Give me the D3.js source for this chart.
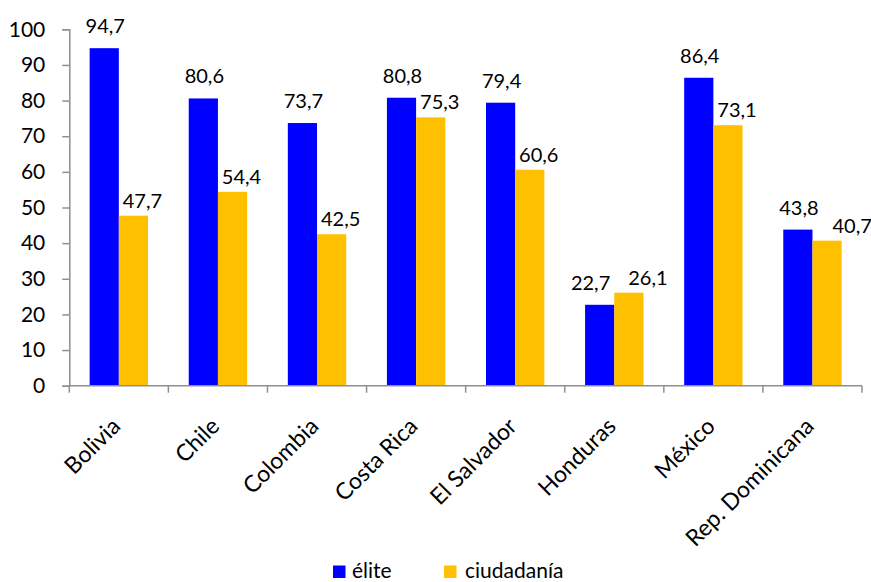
<!DOCTYPE html>
<html>
<head>
<meta charset="utf-8">
<script src="https://cdn.jsdelivr.net/npm/d3@7"></script>
<style>
  html, body { margin: 0; padding: 0; background: #fff; }
  svg { display: block; font-family: Lato, "Open Sans", sans-serif; }
</style>
</head>
<body>
<svg id="chart" width="871" height="582"></svg>
<script>
// Countries on the horizontal axis
const categories = ["Bolivia", "Chile", "Colombia", "Costa Rica", "El Salvador", "Honduras", "México", "Rep. Dominicana"];
// Series names as shown in the legend
const seriesNames = ["élite", "ciudadanía"];
// Percentages per country
const eliteValues = [94.7, 80.6, 73.7, 80.8, 79.4, 22.7, 86.4, 43.8];
const ciudadaniaValues = [47.7, 54.4, 42.5, 75.3, 60.6, 26.1, 73.1, 40.7];
// Y axis ticks
const yTicks = [0, 10, 20, 30, 40, 50, 60, 70, 80, 90, 100];

const colors = { "élite": "#0000FF", "ciudadanía": "#FFC000" };
const seriesValues = { "élite": eliteValues, "ciudadanía": ciudadaniaValues };

const svg = d3.select("#chart");
const plot = { left: 69.3, right: 862, top: 29.3, bottom: 385.7 };
const axisColor = "#8f8f8f";

const x0 = d3.scaleBand().domain(categories).range([plot.left, plot.right]).padding(0);
const x1 = d3.scaleBand().domain(seriesNames).range([0, x0.bandwidth()])
  .paddingInner(0).paddingOuter(0.697);
const y = d3.scaleLinear().domain([0, 100]).range([plot.bottom, plot.top]);

const fmt = v => d3.format(".1f")(v).replace(".", ",");

// Bars
const rows = categories.map((c, i) => ({
  category: c,
  values: seriesNames.map(s => ({ series: s, value: seriesValues[s][i] }))
}));

const groups = svg.append("g").selectAll("g")
  .data(rows).join("g")
  .attr("transform", d => `translate(${x0(d.category)},0)`);

groups.selectAll("rect")
  .data(d => d.values).join("rect")
  .attr("x", d => x1(d.series))
  .attr("y", d => y(d.value))
  .attr("width", x1.bandwidth())
  .attr("height", d => y(0) - y(d.value))
  .attr("fill", d => colors[d.series]);

// Value labels above bars
const labelShift = { "élite": { dx: 1, gap: 15 }, "ciudadanía": { dx: 9, gap: 8 } };
groups.each(function () {
  const g = d3.select(this);
  const texts = g.selectAll("text.val")
    .data(d => d.values).join("text")
    .attr("class", "val")
    .attr("x", d => x1(d.series) + x1.bandwidth() / 2 + labelShift[d.series].dx)
    .attr("y", d => y(d.value) - labelShift[d.series].gap)
    .attr("text-anchor", "middle")
    .attr("font-size", 20)
    .attr("fill", "#000")
    .text(d => fmt(d.value));

  // Keep the two labels of a country from colliding
  const [a, b] = texts.nodes();
  const ya = +a.getAttribute("y"), yb = +b.getAttribute("y");
  if (Math.abs(ya - yb) < 20) {
    const ba = a.getBBox(), bb = b.getBBox();
    const overlap = (ba.x + ba.width) - bb.x;
    if (yb > ya) {
      // second label sits lower: slide it right only
      const push = overlap + 14;
      if (push > 0) b.setAttribute("x", +b.getAttribute("x") + push);
    } else {
      // second label sits higher: spread both apart
      const push = (overlap + 18) / 2;
      if (push > 0) {
        a.setAttribute("x", +a.getAttribute("x") - push);
        b.setAttribute("x", +b.getAttribute("x") + push);
      }
    }
  }
});

// Y axis
const yAxis = d3.axisLeft(y).tickValues(yTicks).tickSize(7).tickPadding(17).tickFormat(d3.format("d"));
const gy = svg.append("g").attr("transform", `translate(${plot.left},0)`).call(yAxis);
gy.select(".domain").attr("stroke", axisColor).attr("stroke-width", 1.5);
gy.selectAll(".tick line").attr("stroke", axisColor).attr("stroke-width", 1.5);
gy.selectAll(".tick text").attr("font-size", 21).attr("fill", "#000")
  .attr("font-family", "Lato, sans-serif");

// X axis: baseline with tick marks at category boundaries
const gx = svg.append("g");
gx.append("line")
  .attr("x1", plot.left).attr("x2", plot.right)
  .attr("y1", y(0)).attr("y2", y(0))
  .attr("stroke", axisColor).attr("stroke-width", 1.5);
const boundaries = categories.map(c => x0(c)).concat([x0(categories[categories.length - 1]) + x0.bandwidth()]);
gx.selectAll("line.tk").data(boundaries).join("line")
  .attr("class", "tk")
  .attr("x1", d => d).attr("x2", d => d)
  .attr("y1", y(0)).attr("y2", y(0) + 7)
  .attr("stroke", axisColor).attr("stroke-width", 1.5);

// Rotated category labels
gx.selectAll("text").data(categories).join("text")
  .attr("transform", d => `translate(${x0(d) + x0.bandwidth() / 2 + 3},${y(0) + 42}) rotate(-45)`)
  .attr("text-anchor", "end")
  .attr("font-size", 23)
  .attr("fill", "#000")
  .text(d => d);

// Legend
const legendItems = [
  { name: "élite", sx: 333, tx: 352 },
  { name: "ciudadanía", sx: 444, tx: 465 }
];
const lg = svg.append("g");
lg.selectAll("rect").data(legendItems).join("rect")
  .attr("x", d => d.sx).attr("y", 565.5)
  .attr("width", 12.5).attr("height", 12.5)
  .attr("fill", d => colors[d.name]);
lg.selectAll("text").data(legendItems).join("text")
  .attr("x", d => d.tx).attr("y", 577.5)
  .attr("font-size", 21)
  .attr("fill", "#000")
  .text(d => d.name);
</script>
</body>
</html>
